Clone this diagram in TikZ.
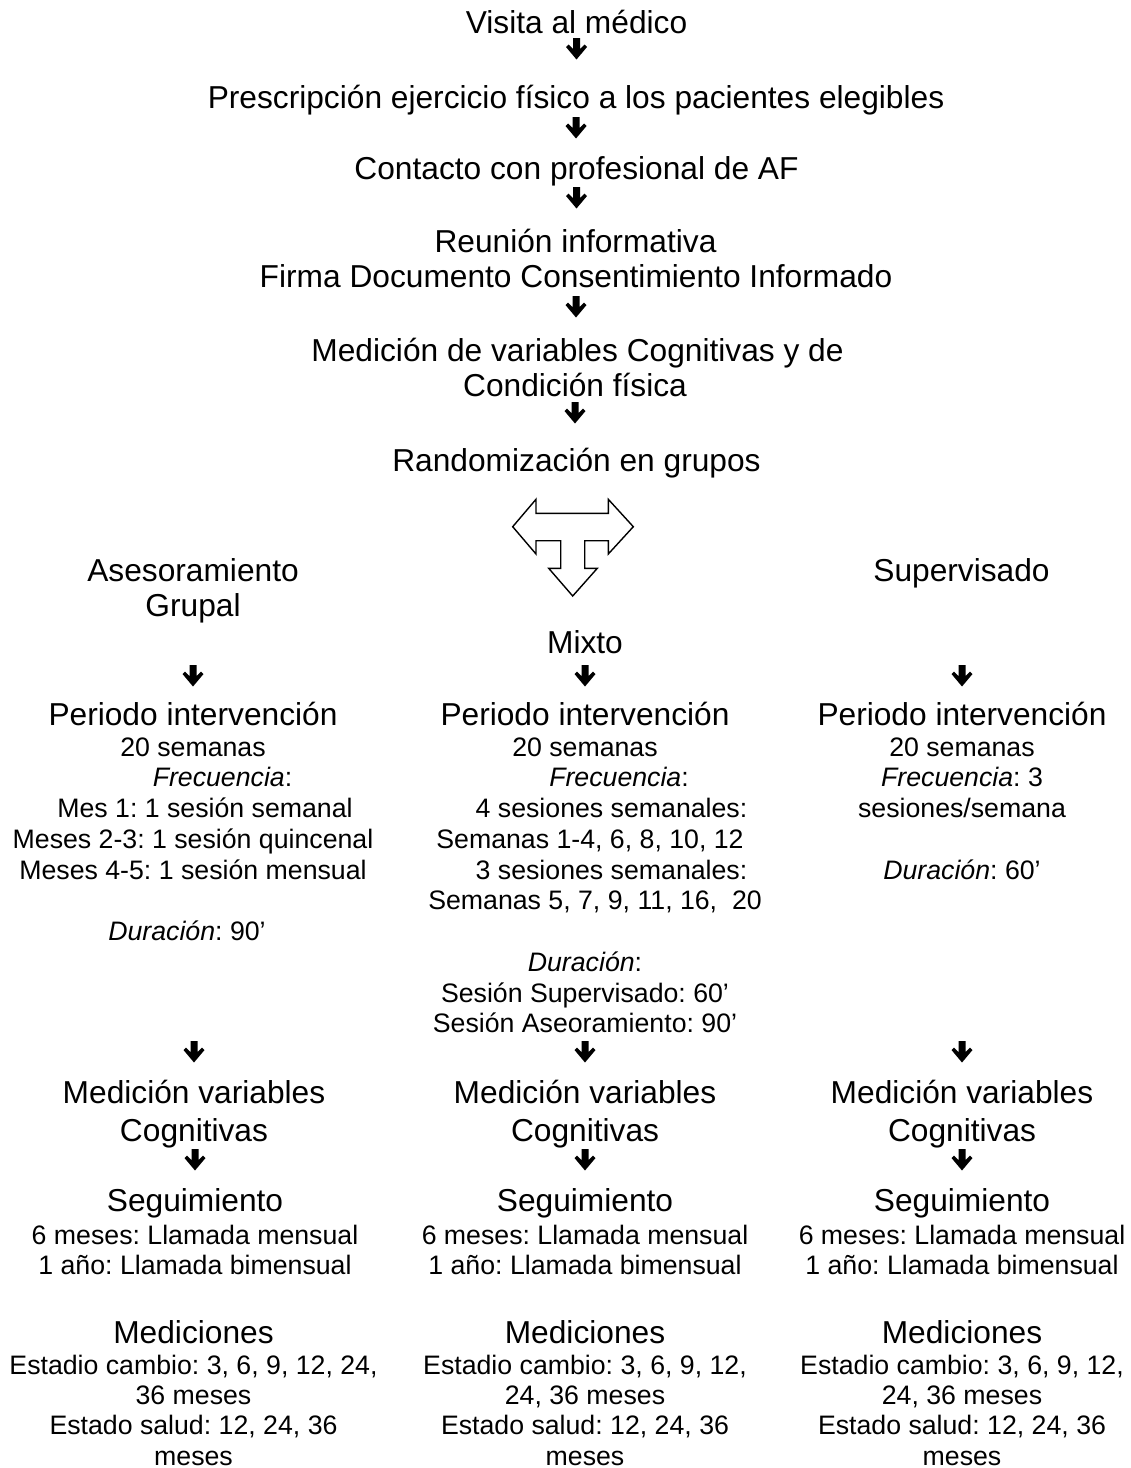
\documentclass[tikz,border=0pt]{standalone}
\usepackage{fontspec}
\setmainfont{Liberation Sans}
\frenchspacing
\newcommand{\mlines}[1]{\begin{tabular}[t]{@{}c@{}}#1\end{tabular}}
\begin{document}
\begin{tikzpicture}[x=1pt,y=-1pt,
  big/.style={font=\fontsize{31.7}{35.5}\selectfont\frenchspacing, anchor=base, inner sep=0pt},
  bigwide/.style={font=\fontsize{31.7}{38}\selectfont\frenchspacing, anchor=base, inner sep=0pt},
  small/.style={font=\fontsize{26.7}{30.75}\selectfont\frenchspacing, anchor=base, inner sep=0pt},
  smalltight/.style={font=\fontsize{26.7}{30.4}\selectfont\frenchspacing, anchor=base, inner sep=0pt},
  dnarr/.pic={\fill[black] (-3.5,0) -- (3.5,0) -- (3.5,11) -- (8,6.5) -- (10.5,9) -- (0,21.5) -- (-10.5,9) -- (-8,6.5) -- (-3.5,11) -- cycle;},
  tshape/.style={draw=black, line width=1.4pt, fill=white, line join=miter}
]
\fill[white] (0,0) rectangle (1131,1468);
\useasboundingbox (0,0) rectangle (1131,1468);

% top flow
\node[big] (visita) at (576.5,33) {Visita al médico};
\node[big] (presc) at (576,108) {Prescripción ejercicio físico a los pacientes elegibles};
\node[big] (contacto) at (576.5,179) {Contacto con profesional de AF};
\node[big] (reunion) at (575.5,252) {Reunión informativa};
\node[big] (firma) at (576,287) {Firma Documento Consentimiento Informado};
\node[big] (medic) at (577.5,361) {Medición de variables Cognitivas y de};
\node[big] (condic) at (575,396) {Condición física};
\node[big] (random) at (576.5,471) {Randomización en grupos};

\pic at ([yshift=-5pt]visita.base) {dnarr};
\pic at ([yshift=-9pt]presc.base) {dnarr};
\pic at ([yshift=-8pt]contacto.base) {dnarr};
\pic at ([yshift=-9pt]firma.base) {dnarr};
\pic at ([yshift=-6pt]condic.base) {dnarr};

% three-way arrow
\draw[tshape] (512.7,526.7) -- (536,499.3) -- (536,513.3) -- (608.3,513.3) -- (608.3,499.3) -- (633.3,526.7) -- (608.3,554) -- (608.3,540.7) -- (584.7,540.7) -- (584.7,568.3) -- (597.3,568.3) -- (572.7,596) -- (548.7,568.3) -- (560.7,568.3) -- (560.7,540.7) -- (536,540.7) -- (536,554) -- cycle;

% group names
\node[big] (asesor) at (193,581) {\mlines{Asesoramiento\\Grupal}};
\node[big] (superv) at (961.5,581) {Supervisado};
\node[big] (mixto) at (585,653) {Mixto};

% intervention period
\node[big] (pL) at (193,725) {Periodo intervención};
\node[big] (pM) at (585,725) {Periodo intervención};
\node[big] (pR) at (962,725) {Periodo intervención};
\pic at ([yshift=60pt]pL.base) {dnarr};
\pic at ([yshift=60pt]pM.base) {dnarr};
\pic at ([yshift=60pt]pR.base) {dnarr};

\node[small] (dL) at (193,756) {\mlines{20 semanas\\
\hspace*{59pt}\textit{Frecuencia}:\\
\hspace*{24pt}Mes 1: 1 sesión semanal\\
Meses 2-3: 1 sesión quincenal\\
Meses 4-5: 1 sesión mensual\\
\\
\textit{Duración}: 90’\hspace*{12pt}}};

\node[small] (dM) at (585,756) {\mlines{20 semanas\\
\hspace*{68pt}\textit{Frecuencia}:\\
\hspace*{53pt}4 sesiones semanales:\\
\hspace*{10pt}Semanas 1-4, 6, 8, 10, 12\\
\hspace*{53pt}3 sesiones semanales:\\
\hspace*{20pt}Semanas 5, 7, 9, 11, 16,\ \ 20\\
\\
\textit{Duración}:\\
Sesión Supervisado: 60’\\
Sesión Aseoramiento: 90’}};

\node[small] (dR) at (962,756) {\mlines{20 semanas\\
\textit{Frecuencia}: 3\\
sesiones/semana\\
\\
\textit{Duración}: 60’}};

% measurement
\node[bigwide] (mvL) at (194,1103) {\mlines{Medición variables\\Cognitivas}};
\node[bigwide] (mvM) at (585,1103) {\mlines{Medición variables\\Cognitivas}};
\node[bigwide] (mvR) at (962,1103) {\mlines{Medición variables\\Cognitivas}};
\pic at ([yshift=62pt]mvL.base) {dnarr};
\pic at ([yshift=62pt]mvM.base) {dnarr};
\pic at ([yshift=62pt]mvR.base) {dnarr};

% follow-up
\node[big] (segL) at (195,1211) {Seguimiento};
\node[big] (segM) at (585,1211) {Seguimiento};
\node[big] (segR) at (962,1211) {Seguimiento};
\pic at ([yshift=62pt]segL.base) {dnarr};
\pic at ([yshift=62pt]segM.base) {dnarr};
\pic at ([yshift=62pt]segR.base) {dnarr};

\node[small] (sdL) at (195,1244) {\mlines{6 meses: Llamada mensual\\1 año: Llamada bimensual}};
\node[small] (sdM) at (585,1244) {\mlines{6 meses: Llamada mensual\\1 año: Llamada bimensual}};
\node[small] (sdR) at (962,1244) {\mlines{6 meses: Llamada mensual\\1 año: Llamada bimensual}};

% measurements
\node[big] (medL) at (193.5,1343.3) {Mediciones};
\node[big] (medM) at (585,1343.3) {Mediciones};
\node[big] (medR) at (962,1343.3) {Mediciones};
\node[smalltight] (mdL) at (193.5,1374) {\mlines{Estadio cambio: 3, 6, 9, 12, 24,\\36 meses\\Estado salud: 12, 24, 36\\meses}};
\node[smalltight] (mdM) at (585,1374) {\mlines{Estadio cambio: 3, 6, 9, 12,\\24, 36 meses\\Estado salud: 12, 24, 36\\meses}};
\node[smalltight] (mdR) at (962,1374) {\mlines{Estadio cambio: 3, 6, 9, 12,\\24, 36 meses\\Estado salud: 12, 24, 36\\meses}};
\end{tikzpicture}
\end{document}
